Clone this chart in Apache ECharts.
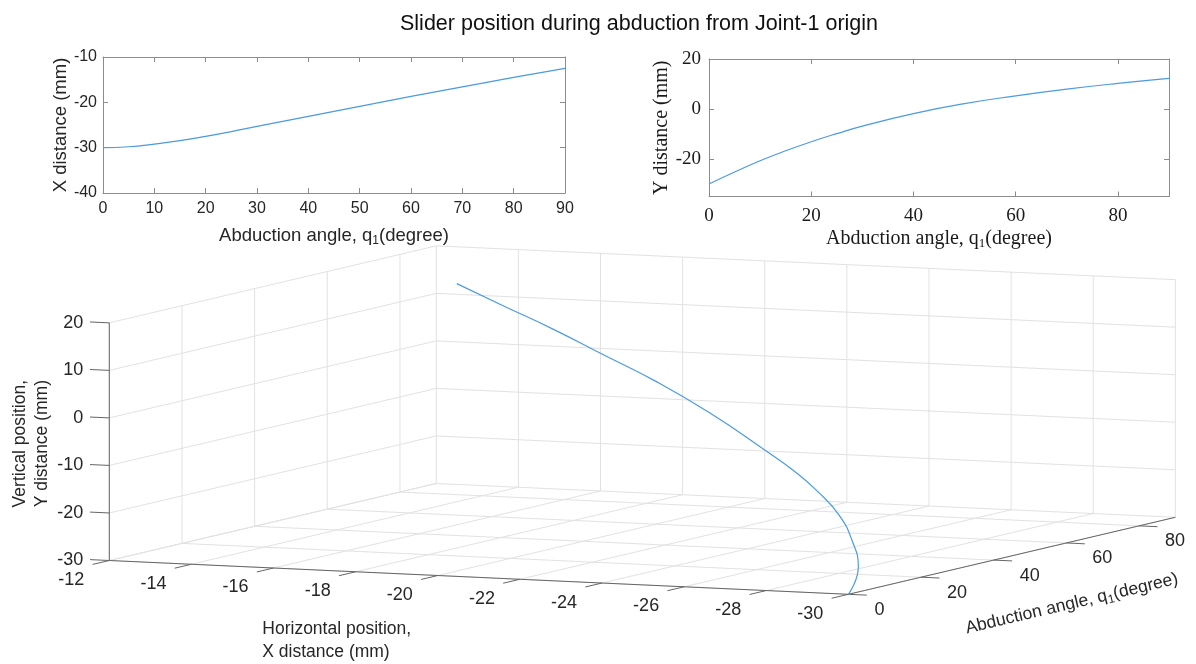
<!DOCTYPE html>
<html>
<head>
<meta charset="utf-8">
<title>Slider position during abduction</title>
<script src="https://cdn.jsdelivr.net/npm/echarts@6/dist/echarts.min.js"></script>
<style>
    html, body { margin: 0; padding: 0; background: #fff; }
    #main { width: 1196px; height: 664px; }
</style>
</head>
<body>
<div id="main"></div>
<script type="text/javascript">
    // abduction angle q1 (degree) and slider position (mm)
    var angle = [0, 5, 10, 15, 20, 25, 30, 40, 50, 60, 70, 80, 90];
    var xDistance = [-30, -29.8, -29.2, -28.45, -27.5, -26.45, -25.3, -23.1, -20.9, -18.7, -16.6, -14.5, -12.5];
    var yDistance = [-30, -25.2, -20.7, -16.7, -13.1, -9.85, -6.85, -1.85, 2.15, 5.25, 7.95, 10.25, 12.25];

    // ticks of the 3d box
    var xTicks3d = [-12, -14, -16, -18, -20, -22, -24, -26, -28, -30];
    var yTicks3d = [-30, -20, -10, 0, 10, 20];
    var zTicks3d = [0, 20, 40, 60, 80];
    var xRange3d = [-30, -12];
    var yRange3d = [-30, 20];
    var zRange3d = [0, 90];

    var lineColor = '#4a9be0';
    var textColor = '#262626';
    var boxColor = '#8c8c8c';
    var axis3dColor = '#666666';
    var gridColor = '#e2e2e2';
    var sans = 'Liberation Sans, Arial, sans-serif';
    var serif = 'Liberation Serif, Times New Roman, serif';

    // fixed view of the 3d box: screen place of (x=-12, y=-30, z=0) and one unit along each axis
    var view = {
        origin: [109.3, 560.5],
        ex: [-41.06, -1.878],
        ey: [0, -4.753],
        ez: [3.633, -0.8556]
    };
    function proj(x, y, z) {
        var dx = x - xRange3d[1], dy = y - yRange3d[0], dz = z - zRange3d[0];
        return [
            view.origin[0] + dx * view.ex[0] + dy * view.ey[0] + dz * view.ez[0],
            view.origin[1] + dx * view.ex[1] + dy * view.ey[1] + dz * view.ez[1]
        ];
    }
    function seg(a, b) {
        return a.concat(b);
    }

    var xMin = xRange3d[0], xMax = xRange3d[1];
    var yMin = yRange3d[0], yMax = yRange3d[1];
    var zMin = zRange3d[0], zMax = zRange3d[1];

    // light grid on the back wall, the side wall and the floor
    var gridSegs = [];
    xTicks3d.forEach(function (x) { gridSegs.push(seg(proj(x, yMin, zMax), proj(x, yMax, zMax))); });
    yTicks3d.forEach(function (y) { gridSegs.push(seg(proj(xMax, y, zMax), proj(xMin, y, zMax))); });
    zTicks3d.forEach(function (z) { gridSegs.push(seg(proj(xMax, yMin, z), proj(xMax, yMax, z))); });
    yTicks3d.forEach(function (y) { gridSegs.push(seg(proj(xMax, y, zMin), proj(xMax, y, zMax))); });
    xTicks3d.forEach(function (x) { gridSegs.push(seg(proj(x, yMin, zMin), proj(x, yMin, zMax))); });
    zTicks3d.forEach(function (z) { gridSegs.push(seg(proj(xMax, yMin, z), proj(xMin, yMin, z))); });

    // axis lines and tick marks
    var axisSegs = [
        seg(proj(xMax, yMin, zMin), proj(xMax, yMax, zMin)),
        seg(proj(xMax, yMin, zMin), proj(xMin, yMin, zMin)),
        seg(proj(xMin, yMin, zMin), proj(xMin, yMin, zMax))
    ];
    yTicks3d.forEach(function (y) { axisSegs.push(seg(proj(xMax, y, zMin), proj(xMax + 0.47, y, zMin))); });
    xTicks3d.forEach(function (x) { axisSegs.push(seg(proj(x, yMin, zMin), proj(x, yMin, zMin - 4.6))); });
    zTicks3d.forEach(function (z) { axisSegs.push(seg(proj(xMin, yMin, z), proj(xMin - 0.45, yMin, z))); });

    // texts of the 3d box
    var labels3d = [];
    yTicks3d.forEach(function (y) {
        labels3d.push({ pos: proj(xMax, y, zMin), text: String(y), align: 'right', dx: -26, dy: 0, size: 18 });
    });
    xTicks3d.forEach(function (x) {
        labels3d.push({ pos: proj(x, yMin, zMin), text: String(x), align: 'right', dx: -25, dy: 19.5, size: 18 });
    });
    zTicks3d.forEach(function (z) {
        labels3d.push({ pos: proj(xMin, yMin, z), text: String(z), align: 'left', dx: 26, dy: 15.5, size: 18 });
    });
    labels3d.push({ pos: proj(xMax, -5, zMin), text: 'Vertical position,\nY distance (mm)', align: 'center',
        dx: -78, dy: 2, size: 17.5, rot: Math.PI / 2, lineHeight: 22 });
    labels3d.push({ pos: proj(xMax, yMin, zMin), text: 'Horizontal position,\nX distance (mm)', align: 'left',
        dx: 153, dy: 80, size: 17.5, lineHeight: 23 });
    labels3d.push({ pos: proj(xMin, yMin, 45), text: 'Abduction angle, q{sub|1}(degree)', align: 'center',
        dx: 60, dy: 48, size: 17.5, rot: Math.atan2(-view.ez[1], view.ez[0]) });

    function segmentItem(color, width) {
        return function (params, api) {
            var a = api.coord([api.value(0), api.value(1)]);
            var b = api.coord([api.value(2), api.value(3)]);
            return {
                type: 'line',
                shape: { x1: a[0], y1: a[1], x2: b[0], y2: b[1] },
                style: { stroke: color, lineWidth: width }
            };
        };
    }

    var myChart = echarts.init(document.getElementById('main'), null, { renderer: 'canvas' });

    function boxAxis(extra) {
        var base = {
            type: 'value',
            axisLine: { show: true, onZero: false, lineStyle: { color: boxColor, width: 1 } },
            axisTick: { show: true, inside: true, length: 5, lineStyle: { color: boxColor } },
            splitLine: { show: false }
        };
        return Object.assign(base, extra);
    }

    var option = {
        animation: false,
        backgroundColor: '#ffffff',
        title: {
            text: 'Slider position during abduction from Joint-1 origin',
            left: 395,
            top: 8,
            textStyle: { fontSize: 21.5, fontWeight: 'normal', color: '#111', fontFamily: sans }
        },
        grid: [
            { left: 103, top: 57, width: 462, height: 136, containLabel: false, outerBoundsMode: 'none' },
            { left: 709, top: 59, width: 460, height: 137.5, containLabel: false, outerBoundsMode: 'none' },
            { left: 0, top: 0, width: 1196, height: 664, containLabel: false, outerBoundsMode: 'none' }
        ],
        xAxis: [
            boxAxis({
                gridIndex: 0, position: 'bottom', min: 0, max: 90, interval: 10,
                axisLabel: { color: textColor, fontSize: 16, fontFamily: sans, margin: 8 },
                name: 'Abduction angle, q{sub|1}(degree)', nameLocation: 'middle', nameGap: 32,
                nameTextStyle: { color: textColor, fontSize: 18.5, fontFamily: sans,
                    rich: { sub: { fontSize: 12, fontFamily: sans, color: textColor, padding: [10, 0, 0, 0] } } }
            }),
            boxAxis({ gridIndex: 0, position: 'top', min: 0, max: 90, interval: 10, axisLabel: { show: false } }),
            boxAxis({
                gridIndex: 1, position: 'bottom', min: 0, max: 90, interval: 20,
                axisLabel: { color: '#1a1a1a', fontSize: 19, fontFamily: serif, margin: 10, showMaxLabel: false },
                name: 'Abduction angle, q{sub|1}(degree)', nameLocation: 'middle', nameGap: 31,
                nameTextStyle: { color: '#1a1a1a', fontSize: 20, fontFamily: serif,
                    rich: { sub: { fontSize: 13, fontFamily: serif, color: '#1a1a1a', padding: [10, 0, 0, 0] } } }
            }),
            boxAxis({ gridIndex: 1, position: 'top', min: 0, max: 90, interval: 20, axisLabel: { show: false } }),
            { gridIndex: 2, type: 'value', min: 0, max: 1196, show: false }
        ],
        yAxis: [
            boxAxis({
                gridIndex: 0, position: 'left', min: -40, max: -10, interval: 10,
                axisLabel: { color: textColor, fontSize: 16, fontFamily: sans, margin: 6 },
                name: 'X distance (mm)', nameLocation: 'middle', nameGap: 32, nameRotate: 90,
                nameTextStyle: { color: textColor, fontSize: 18.5, fontFamily: sans }
            }),
            boxAxis({ gridIndex: 0, position: 'right', min: -40, max: -10, interval: 10, axisLabel: { show: false } }),
            boxAxis({
                gridIndex: 1, position: 'left', min: -35, max: 20, splitNumber: 3, minInterval: 20, maxInterval: 20,
                axisLabel: { color: '#1a1a1a', fontSize: 19, fontFamily: serif, margin: 8, showMinLabel: false },
                name: 'Y distance (mm)', nameLocation: 'middle', nameGap: 34, nameRotate: 90,
                nameTextStyle: { color: '#1a1a1a', fontSize: 20, fontFamily: serif }
            }),
            boxAxis({
                gridIndex: 1, position: 'right', min: -35, max: 20, splitNumber: 3, minInterval: 20, maxInterval: 20,
                axisLabel: { show: false }
            }),
            { gridIndex: 2, type: 'value', min: 0, max: 664, inverse: true, show: false }
        ],
        series: [
            {
                name: 'X distance',
                type: 'line',
                xAxisIndex: 0, yAxisIndex: 0,
                data: angle.map(function (q, i) { return [q, xDistance[i]]; }),
                smooth: true,
                showSymbol: false,
                lineStyle: { color: lineColor, width: 1.2 }
            },
            {
                name: 'Y distance',
                type: 'line',
                xAxisIndex: 2, yAxisIndex: 2,
                data: angle.map(function (q, i) { return [q, yDistance[i]]; }),
                smooth: true,
                showSymbol: false,
                lineStyle: { color: lineColor, width: 1.2 }
            },
            {
                name: 'grid3d',
                type: 'custom',
                xAxisIndex: 4, yAxisIndex: 4,
                data: gridSegs,
                renderItem: segmentItem(gridColor, 1),
                silent: true,
                z: 1
            },
            {
                name: 'axes3d',
                type: 'custom',
                xAxisIndex: 4, yAxisIndex: 4,
                data: axisSegs,
                renderItem: segmentItem(axis3dColor, 1),
                silent: true,
                z: 2
            },
            {
                name: 'path3d',
                type: 'line',
                xAxisIndex: 4, yAxisIndex: 4,
                data: angle.map(function (q, i) { return proj(xDistance[i], yDistance[i], q); }),
                smooth: true,
                showSymbol: false,
                lineStyle: { color: lineColor, width: 1.2 },
                z: 3
            },
            {
                name: 'labels3d',
                type: 'custom',
                xAxisIndex: 4, yAxisIndex: 4,
                data: labels3d.map(function (l) { return l.pos; }),
                silent: true,
                z: 4,
                renderItem: function (params, api) {
                    var l = labels3d[params.dataIndex];
                    var p = api.coord([api.value(0), api.value(1)]);
                    return {
                        type: 'text',
                        x: p[0] + l.dx,
                        y: p[1] + l.dy,
                        rotation: l.rot || 0,
                        style: {
                            text: l.text,
                            align: l.align,
                            verticalAlign: 'middle',
                            fill: textColor,
                            fontSize: l.size,
                            fontFamily: sans,
                            lineHeight: l.lineHeight,
                            rich: { sub: { fontSize: 12, fontFamily: sans, fill: textColor, padding: [10, 0, 0, 0] } }
                        }
                    };
                }
            }
        ]
    };
    myChart.setOption(option);
</script>
</body>
</html>
